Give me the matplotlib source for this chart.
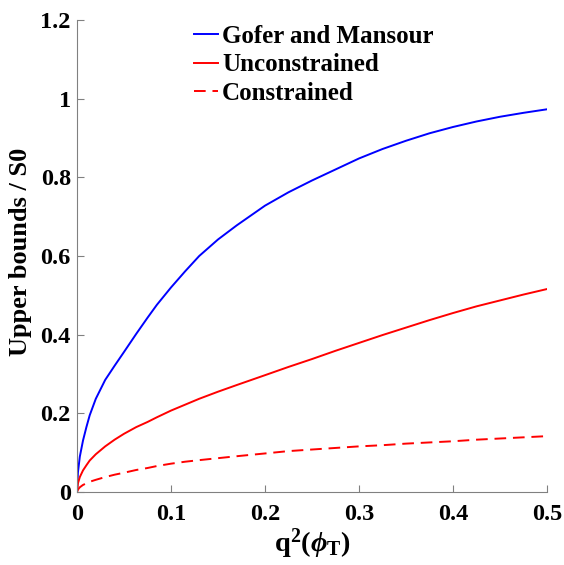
import numpy as np
import matplotlib
matplotlib.use("Agg")
import matplotlib.pyplot as plt

# values
q2 = [0, 0.001, 0.003, 0.0064, 0.01, 0.0135, 0.02, 0.03, 0.04, 0.05,
      0.063, 0.075, 0.085, 0.1, 0.115, 0.13, 0.15, 0.17, 0.2, 0.225,
      0.25, 0.275, 0.3, 0.325, 0.35, 0.375, 0.4, 0.425, 0.45, 0.475, 0.5]
gofer = [0, 0.05, 0.09, 0.131, 0.165, 0.195, 0.237, 0.285, 0.321, 0.356,
         0.402, 0.443, 0.476, 0.52, 0.561, 0.6, 0.642, 0.678, 0.728, 0.762,
         0.792, 0.82, 0.848, 0.872, 0.893, 0.912, 0.928, 0.942, 0.954, 0.964, 0.973]
unconstr = [0, 0.022, 0.038, 0.055, 0.068, 0.08, 0.096, 0.116, 0.133, 0.148,
            0.165, 0.178, 0.19, 0.207, 0.222, 0.237, 0.255, 0.272, 0.297, 0.318,
            0.338, 0.359, 0.379, 0.399, 0.418, 0.437, 0.455, 0.472, 0.487, 0.502, 0.516]
constr = [0, 0.006, 0.012, 0.018, 0.022, 0.026, 0.031, 0.038, 0.044, 0.049,
          0.056, 0.061, 0.066, 0.072, 0.077, 0.081, 0.086, 0.091, 0.098, 0.104,
          0.108, 0.112, 0.116, 0.119, 0.123, 0.126, 0.129, 0.133, 0.136, 0.139, 0.142]

xticks = [0, 0.1, 0.2, 0.3, 0.4, 0.5]
yticks = [0, 0.2, 0.4, 0.6, 0.8, 1.0, 1.2]
yticklabels = ['0', '0.2', '0.4', '0.6', '0.8', '1', '1.2']

plt.rcParams['font.family'] = ['Liberation Serif', 'DejaVu Serif']
plt.rcParams['font.weight'] = 'bold'
plt.rcParams['mathtext.fontset'] = 'custom'
plt.rcParams['mathtext.rm'] = 'Liberation Serif:bold'
plt.rcParams['mathtext.it'] = 'Liberation Serif:italic:bold'
plt.rcParams['mathtext.bf'] = 'Liberation Serif:bold'

fig = plt.figure(figsize=(5.64, 5.65), dpi=100)
ax = fig.add_axes([77/564, 1 - 492/565, 470/564, 472/565])

ax.plot(q2, gofer, color='#0000ff', lw=1.4, label='Gofer and Mansour')
ax.plot(q2, unconstr, color='#ff0000', lw=1.4, label='Unconstrained')
ax.plot(q2, constr, color='#ff0000', lw=1.4, ls=(0, (6, 3.5)), label='Constrained')

ax.set_xlim(0, 0.5)
ax.set_ylim(0, 1.2)
ax.set_xticks(xticks)
ax.set_xticklabels([('%g' % t) for t in xticks])
ax.set_yticks(yticks)
ax.set_yticklabels(yticklabels)

for s in ['top', 'right']:
    ax.spines[s].set_visible(False)
for s in ['left', 'bottom']:
    ax.spines[s].set_color('#808080')
    ax.spines[s].set_linewidth(0.8)
ax.tick_params(direction='in', length=5, width=0.8, color='#808080',
               labelsize=17.5)
ax.tick_params(axis='x', pad=9)
ax.tick_params(axis='y', pad=4.5)

ax.set_xlabel(r'q$^{\mathbf{2}}$($\phi_{\mathbf{T}}$)', fontsize=20.5,
              fontweight='bold', labelpad=1)
ax.set_ylabel('Upper bounds / S0', fontsize=19, fontweight='bold')
ax.yaxis.set_label_coords(-0.096, 0.5095)

leg = ax.legend(loc='upper left', bbox_to_anchor=(0.249, 0.99), frameon=False,
                fontsize=18, handlelength=0.95, handletextpad=0.17,
                labelspacing=0.23, borderpad=0, borderaxespad=0)

fig.savefig('out.png', dpi=100)
